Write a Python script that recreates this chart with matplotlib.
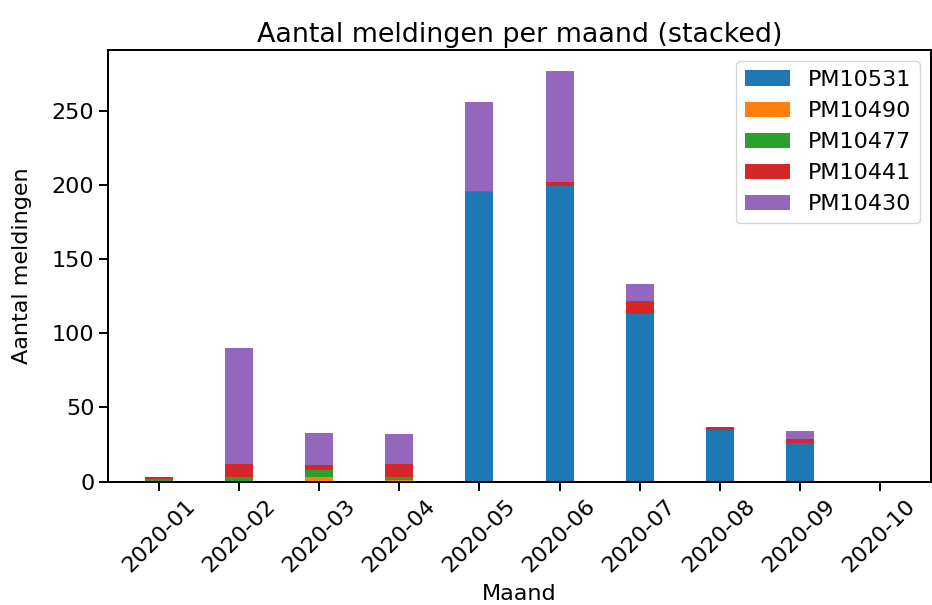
import numpy as np
import matplotlib
matplotlib.use("Agg")
import matplotlib.pyplot as plt

maanden = ["2020-01", "2020-02", "2020-03", "2020-04", "2020-05",
           "2020-06", "2020-07", "2020-08", "2020-09", "2020-10"]

pm10531 = [0, 0, 0, 0, 195, 199, 113, 35, 26, 0]
pm10490 = [0, 0, 3, 1, 0, 0, 0, 0, 0, 0]
pm10477 = [2, 3, 5, 2, 1, 0, 0, 0, 0, 0]
pm10441 = [1, 9, 3, 9, 0, 3, 9, 2, 3, 0]
pm10430 = [0, 78, 22, 20, 60, 75, 11, 0, 5, 0]

series = [("PM10531", pm10531), ("PM10490", pm10490), ("PM10477", pm10477),
          ("PM10441", pm10441), ("PM10430", pm10430)]

s = 1.8
plt.rcParams["font.size"] = 16
plt.rcParams["axes.linewidth"] = 0.8 * s
plt.rcParams["xtick.major.width"] = 0.8 * s
plt.rcParams["ytick.major.width"] = 0.8 * s
plt.rcParams["xtick.major.size"] = 3.5 * s
plt.rcParams["ytick.major.size"] = 3.5 * s

fig = plt.figure(figsize=(9.32, 6.05), dpi=100)
ax = fig.add_axes([0.1159, 0.2038, 0.883, 0.7136])

x = np.arange(len(maanden))
bottom = np.zeros(len(maanden))
for naam, waarden in series:
    ax.bar(x, waarden, 0.35, bottom=bottom, label=naam)
    bottom += np.array(waarden)

ax.set_xticks(x)
ax.set_xticklabels(maanden, rotation=45)
ax.set_xlabel("Maand", labelpad=6)
ax.set_ylabel("Aantal meldingen", labelpad=14)
ax.set_title("Aantal meldingen per maand (stacked)", fontsize=19.4)
ax.legend()

fig.savefig("out.png", dpi=100)
